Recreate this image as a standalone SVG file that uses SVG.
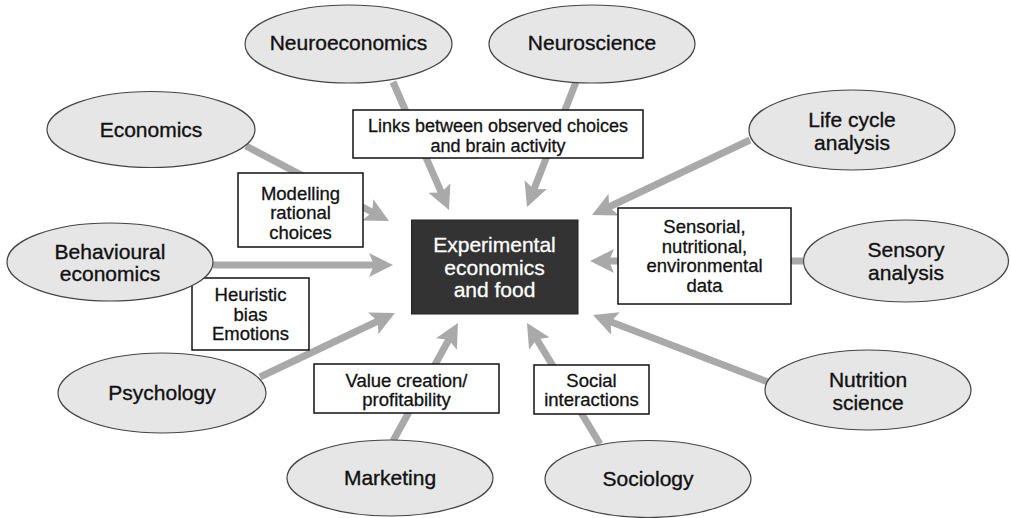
<svg xmlns="http://www.w3.org/2000/svg" width="1011" height="518" viewBox="0 0 1011 518">
<style>
.n ellipse{fill:#e6e6e6;stroke:#444;stroke-width:1.2}
.n text{font-family:"Liberation Sans",Arial,sans-serif;font-size:21px;fill:#111;stroke:#111;stroke-width:0.35;text-anchor:middle}
.c line{stroke:#a9a9a9;stroke-width:7;marker-end:url(#ah)}
.l rect{fill:#fff;stroke:#111;stroke-width:1.5}
.l text{font-family:"Liberation Sans",Arial,sans-serif;font-size:18.5px;fill:#111;stroke:#111;stroke-width:0.3;text-anchor:middle}
#center rect{fill:#333;stroke:#222;stroke-width:1}
#center text{font-family:"Liberation Sans",Arial,sans-serif;font-size:21px;fill:#fff;stroke:#fff;stroke-width:0.3;text-anchor:middle}
</style>
<defs>
<marker id="ah" viewBox="0 0 24 24" refX="10" refY="12" markerWidth="24" markerHeight="24" markerUnits="userSpaceOnUse" orient="auto">
<path d="M0,0 L24,12 L0,24 L5,12 Z" fill="#a9a9a9"/>
</marker>
</defs>
<rect width="1011" height="518" fill="#fff"/>
<g id="connectors" class="c">
<line x1="393" y1="82" x2="443.4" y2="197.2"/>
<line x1="576" y1="82" x2="532.1" y2="194"/>
<line x1="246" y1="146" x2="376.6" y2="214.5"/>
<line x1="213" y1="265" x2="379" y2="265"/>
<line x1="260" y1="377" x2="382.3" y2="319"/>
<line x1="393" y1="441" x2="451.2" y2="335.3"/>
<line x1="600" y1="444" x2="534.2" y2="335"/>
<line x1="768" y1="382" x2="606.1" y2="320"/>
<line x1="803" y1="261" x2="604" y2="261"/>
<line x1="750" y1="140" x2="604.6" y2="209"/>
</g>
<g id="labels" class="l">
<g id="lbl-links"><rect x="353" y="110" width="290" height="48"/><text x="498" y="131.5" style="font-size:18px">Links between observed choices</text><text x="498" y="151.8" style="font-size:18px">and brain activity</text></g>
<g id="lbl-modelling"><rect x="238" y="173" width="125" height="74"/><text x="300.5" y="199.5">Modelling</text><text x="300.5" y="219">rational</text><text x="300.5" y="238.5">choices</text></g>
<g id="lbl-heuristic"><rect x="192" y="278" width="117" height="72"/><text x="250.5" y="301">Heuristic</text><text x="250.5" y="321">bias</text><text x="250.5" y="340">Emotions</text></g>
<g id="lbl-value"><rect x="314" y="364" width="185" height="49"/><text x="406.5" y="387">Value creation/</text><text x="406.5" y="406">profitability</text></g>
<g id="lbl-social"><rect x="534" y="365" width="115" height="49"/><text x="591.5" y="387">Social</text><text x="591.5" y="406">interactions</text></g>
<g id="lbl-sensorial"><rect x="618" y="208" width="173" height="96"/><text x="704.5" y="233">Sensorial,</text><text x="704.5" y="252.5">nutritional,</text><text x="704.5" y="272">environmental</text><text x="704.5" y="291.5">data</text></g>
</g>
<g id="center"><rect x="411.5" y="220" width="166.5" height="94"/><text x="494.5" y="252">Experimental</text><text x="494.5" y="274.5">economics</text><text x="494.5" y="297">and food</text></g>
<g id="neuroeconomics" class="n"><ellipse cx="348.5" cy="44" rx="103.5" ry="39"/><text x="348.5" y="49.5">Neuroeconomics</text></g>
<g id="neuroscience" class="n"><ellipse cx="592" cy="44" rx="103" ry="39"/><text x="592" y="49.5">Neuroscience</text></g>
<g id="economics" class="n"><ellipse cx="151" cy="129.5" rx="104" ry="38"/><text x="151" y="137">Economics</text></g>
<g id="lifecycle" class="n"><ellipse cx="852" cy="130" rx="103" ry="40"/><text x="852" y="127">Life cycle</text><text x="852" y="150">analysis</text></g>
<g id="behavioural" class="n"><ellipse cx="110" cy="262" rx="103" ry="39"/><text x="110" y="259">Behavioural</text><text x="110" y="281">economics</text></g>
<g id="sensory" class="n"><ellipse cx="906" cy="261" rx="102.5" ry="41"/><text x="906" y="257">Sensory</text><text x="906" y="280">analysis</text></g>
<g id="psychology" class="n"><ellipse cx="162" cy="393" rx="104" ry="40"/><text x="162" y="400">Psychology</text></g>
<g id="nutrition" class="n"><ellipse cx="868" cy="390" rx="103" ry="40"/><text x="868" y="387">Nutrition</text><text x="868" y="410">science</text></g>
<g id="marketing" class="n"><ellipse cx="390" cy="478" rx="103" ry="38"/><text x="390" y="485">Marketing</text></g>
<g id="sociology" class="n"><ellipse cx="648" cy="479" rx="103" ry="38.5"/><text x="648" y="486">Sociology</text></g>
</svg>
